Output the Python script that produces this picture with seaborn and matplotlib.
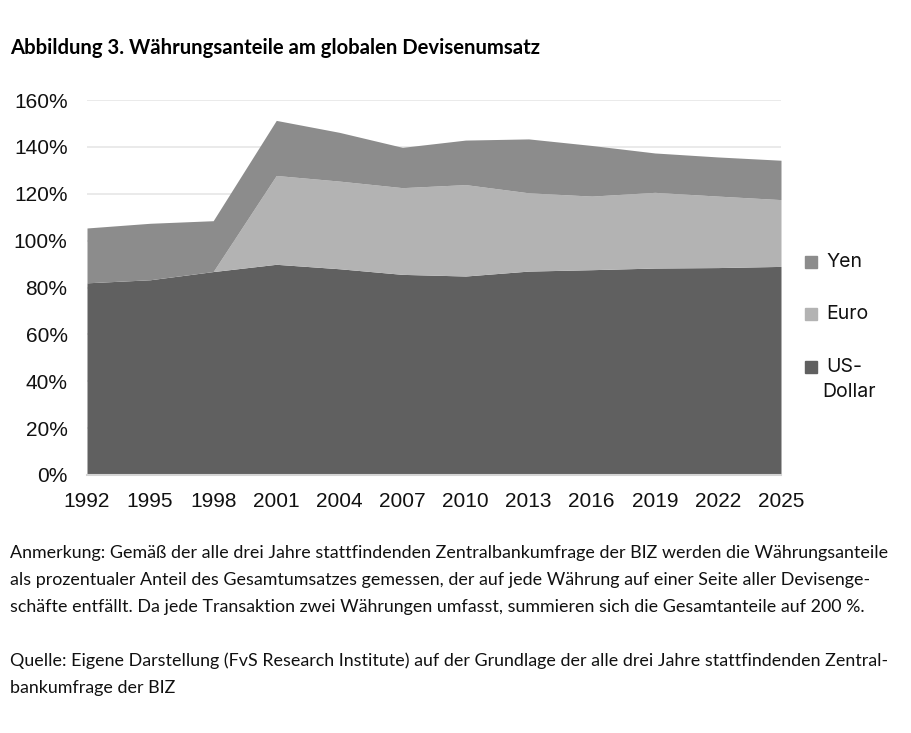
import matplotlib.pyplot as plt
import seaborn as sns
from matplotlib.patches import Rectangle

# data (share of global FX turnover, %)
years = [1992, 1995, 1998, 2001, 2004, 2007, 2010, 2013, 2016, 2019, 2022, 2025]
usd = [82.0, 83.3, 86.8, 89.9, 88.0, 85.6, 84.9, 87.0, 87.6, 88.3, 88.5, 89.0]
euro = [0.0, 0.0, 0.0, 37.9, 37.4, 37.0, 39.0, 33.4, 31.4, 32.3, 30.5, 28.5]
yen = [23.4, 24.1, 21.7, 23.5, 20.8, 17.2, 19.0, 23.0, 21.6, 16.8, 16.7, 16.8]
y_ticks = [0, 20, 40, 60, 80, 100, 120, 140, 160]
colors = ["#606060", "#b3b3b3", "#8c8c8c"]  # USD, Euro, Yen

sns.set_theme(style="white")
plt.rcParams["font.family"] = ["Liberation Sans", "DejaVu Sans"]

W, H = 911, 733
fig = plt.figure(figsize=(W / 100, H / 100), dpi=100)
ax = fig.add_axes([87 / W, (H - 475) / H, (781 - 87) / W, (475 - 100) / H])

ax.stackplot(years, usd, euro, yen, colors=colors, linewidth=0)
ax.set_xlim(years[0], years[-1])
ax.set_ylim(0, 160)
ax.set_xticks(years)
ax.set_xticklabels([str(y) for y in years], fontsize=15, color="#111111")
ax.set_yticks(y_ticks)
ax.set_yticklabels([f"{t}%" for t in y_ticks], fontsize=15, color="#111111")
ax.grid(axis="y", color="#e6e6e6", linewidth=1.2)
ax.set_axisbelow(True)
for s in ["top", "right", "left"]:
    ax.spines[s].set_visible(False)
ax.spines["bottom"].set_color("#d4d4d4")
ax.spines["bottom"].set_linewidth(1.5)
ax.tick_params(axis="x", length=8, width=1.2, color="#d4d4d4", direction="out", pad=4)
ax.tick_params(axis="y", length=0, pad=14)

# legend on the right
for lab, col, yy in [("Yen", colors[2], 262), ("Euro", colors[1], 314), ("US-", colors[0], 367)]:
    fig.patches.append(Rectangle((805 / W, 1 - (yy + 6) / H), 12 / W, 12 / H,
                                 transform=fig.transFigure, color=col))
    fig.text(826 / W, 1 - yy / H, lab, fontsize=14, va="center", ha="left",
             family=["Inter", "DejaVu Sans"], color="#111111")
fig.text(822 / W, 1 - 392 / H, "Dollar", fontsize=14, va="center", ha="left",
         family=["Inter", "DejaVu Sans"], color="#111111")

fig.text(10 / W, 1 - 48 / H, "Abbildung 3. Währungsanteile am globalen Devisenumsatz",
         fontsize=14.6, fontweight="bold", va="center", ha="left",
         family=["Lato", "DejaVu Sans"], color="#000000")

notes = [
    (553, "Anmerkung: Gemäß der alle drei Jahre stattfindenden Zentralbankumfrage der BIZ werden die Währungsanteile"),
    (580, "als prozentualer Anteil des Gesamtumsatzes gemessen, der auf jede Währung auf einer Seite aller Devisenge-"),
    (607, "schäfte entfällt. Da jede Transaktion zwei Währungen umfasst, summieren sich die Gesamtanteile auf 200 %."),
    (661, "Quelle: Eigene Darstellung (FvS Research Institute) auf der Grundlage der alle drei Jahre stattfindenden Zentral-"),
    (688, "bankumfrage der BIZ"),
]
for yy, line in notes:
    fig.text(10 / W, 1 - yy / H, line, fontsize=12.85, va="center", ha="left",
             family=["Lato", "DejaVu Sans"], color="#111111")

fig.savefig("out.png", dpi=100, facecolor="white")
